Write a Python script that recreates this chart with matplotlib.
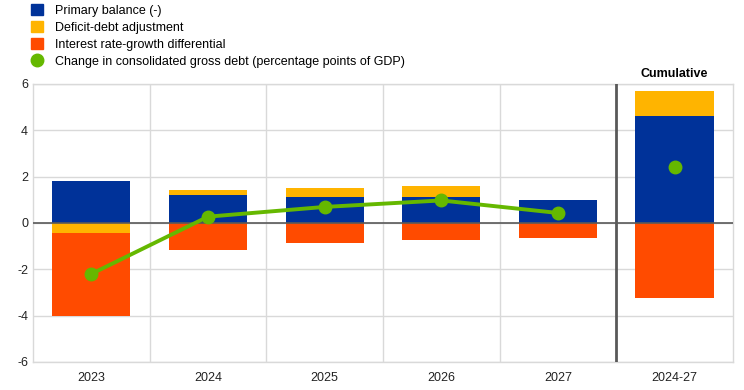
import numpy as np
import matplotlib.pyplot as plt
from matplotlib.lines import Line2D
from matplotlib.patches import Patch

plt.rcParams['font.family'] = ['Liberation Sans', 'DejaVu Sans']
plt.rcParams['axes.unicode_minus'] = False

# --- data (percentage points of GDP) ---
categories = ["2023", "2024", "2025", "2026", "2027", "2024-27"]
primary_balance = [1.82, 1.21, 1.13, 1.13, 1.00, 4.63]
deficit_debt = [-0.45, 0.22, 0.39, 0.47, 0.0, 1.04]
interest_growth = [-3.58, -1.17, -0.85, -0.74, -0.65, -3.23]
debt_change = [-2.20, 0.27, 0.69, 0.97, 0.43, 2.42]

c_blue = "#003299"
c_yellow = "#FFB400"
c_orange = "#FF4B00"
c_green = "#65B800"

fig = plt.figure(figsize=(7.44, 3.9), dpi=100)
ax = fig.add_axes([0.0444, 0.0718, 0.9406, 0.7132])

x = np.arange(len(categories))
w = 0.67

# stack positives up from zero, negatives down from zero
pos_base = np.zeros(len(x))
neg_base = np.zeros(len(x))
for vals, col in [(primary_balance, c_blue), (deficit_debt, c_yellow), (interest_growth, c_orange)]:
    vals = np.array(vals)
    bottoms = np.where(vals >= 0, pos_base, neg_base)
    ax.bar(x, vals, w, bottom=bottoms, color=col, zorder=2, linewidth=0)
    pos_base = pos_base + np.where(vals >= 0, vals, 0)
    neg_base = neg_base + np.where(vals < 0, vals, 0)

# debt change: line over the annual values, lone point for cumulative
ax.plot(x[:5], debt_change[:5], color=c_green, lw=2.8, marker="o", ms=9, zorder=4)
ax.plot(x[5], debt_change[5], color=c_green, marker="o", ms=9, ls="none", zorder=4)

ax.set_xlim(-0.5, len(x) - 0.5)
ax.set_ylim(-6, 6)
ax.set_yticks(np.arange(-6, 7, 2))
ax.set_xticks(x)
ax.set_xticklabels(categories)
ax.tick_params(length=0, labelsize=9, colors="#222222")
ax.tick_params(axis="x", pad=7)

# grid
for gx in np.arange(0.5, len(x) - 1, 1):
    if gx != 4.5:
        ax.axvline(gx, color="#d9d9d9", lw=1, zorder=0)
for gy in np.arange(-6, 7, 2):
    ax.axhline(gy, color="#d9d9d9", lw=1, zorder=0)
ax.axhline(0, color="#595959", lw=1.2, zorder=3)
ax.axvline(4.5, color="#595959", lw=2, zorder=3)
for s in ax.spines.values():
    s.set_color("#d9d9d9")
    s.set_linewidth(1)

ax.text(5, 6.15, "Cumulative", ha="center", va="bottom", fontsize=9, fontweight="bold")

handles = [
    Patch(color=c_blue, label="Primary balance (-)"),
    Patch(color=c_yellow, label="Deficit-debt adjustment"),
    Patch(color=c_orange, label="Interest rate-growth differential"),
    Line2D([], [], color=c_green, marker="o", ls="none", ms=9,
           label="Change in consolidated gross debt (percentage points of GDP)"),
]
fig.legend(handles=handles, loc="upper left", bbox_to_anchor=(0.027, 1.018), frameon=False,
           fontsize=9, handlelength=0.9, handleheight=0.9, labelspacing=0.36, handletextpad=1.0)

fig.savefig("out.png", dpi=100)
